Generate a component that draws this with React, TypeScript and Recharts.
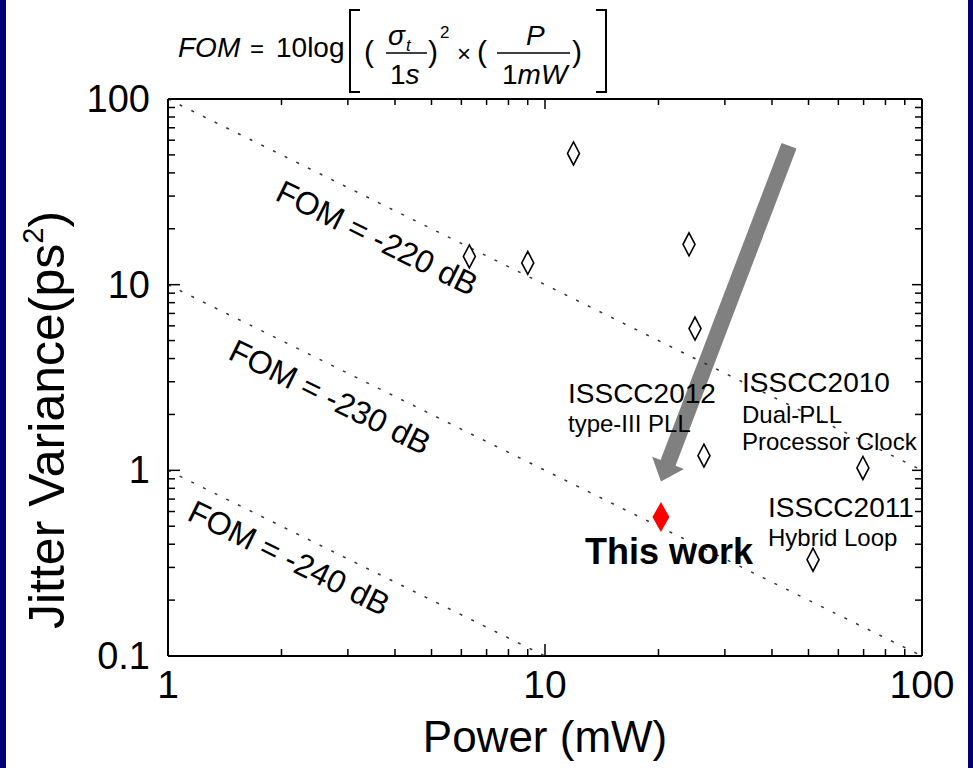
import React from "react";
import { ReferenceLine, Scatter, ScatterChart, XAxis, YAxis } from "recharts";

// power axis (mW), log ticks incl. minor
const powerTicks = [1, 2, 3, 4, 5, 6, 7, 8, 9, 10, 20, 30, 40, 50, 60, 70, 80, 90, 100];
// jitter variance axis (ps^2)
const jitterTicks = [
  0.1, 0.2, 0.3, 0.4, 0.5, 0.6, 0.7, 0.8, 0.9, 1, 2, 3, 4, 5, 6, 7, 8, 9, 10, 20, 30, 40, 50, 60, 70, 80, 90, 100,
];

// previously published PLLs
const priorPower = [6.3, 9.0, 11.9, 24.1, 25.0, 26.4, 51.4, 69.7];
const priorJitter = [14.2, 13.1, 50.9, 16.5, 5.8, 1.2, 0.33, 1.03];

// this work
const thisPower = [20.3];
const thisJitter = [0.56];

// FOM contour end points
const fom220Power = [1, 100];
const fom220Jitter = [100, 1];
const fom230Power = [1, 100];
const fom230Jitter = [10, 0.1];
const fom240Power = [1, 10];
const fom240Jitter = [1, 0.1];

// gray arrow (tail -> head)
const arrowPower = [44.4, 20.3];
const arrowJitter = [56, 0.87];

const zip = (p: number[], j: number[]) => p.map((v, i) => ({ p: v, j: j[i] }));

const FONT = "Arial, 'Liberation Sans', Helvetica, sans-serif";
const NAVY = "#000070";

const isDecade = (v: number) => Math.abs(Math.log10(v) - Math.round(Math.log10(v))) < 1e-6;
const fmt = (v: number) => (v < 1 ? v.toFixed(1) : String(v));

const BottomTick = (props: any) => {
  const { x, y, payload } = props;
  const major = isDecade(payload.value);
  return (
    <g>
      <line x1={x} x2={x} y1={y} y2={y - (major ? 12 : 7)} stroke="#000" strokeWidth={1.5} />
      {major && (
        <text x={x} y={y + 42} textAnchor="middle" fontSize={39} fontFamily={FONT} fill="#000">
          {fmt(payload.value)}
        </text>
      )}
    </g>
  );
};

const TopTick = (props: any) => {
  const { x, y, payload } = props;
  const major = isDecade(payload.value);
  return <line x1={x} x2={x} y1={y} y2={y + (major ? 10 : 6)} stroke="#000" strokeWidth={1.5} />;
};

const LeftTick = (props: any) => {
  const { x, y, payload } = props;
  const major = isDecade(payload.value);
  return (
    <g>
      <line x1={x} x2={x + (major ? 12 : 7)} y1={y} y2={y} stroke="#000" strokeWidth={1.5} />
      {major && (
        <text x={x - 18} y={y + 13} textAnchor="end" fontSize={38} fontFamily={FONT} fill="#000">
          {fmt(payload.value)}
        </text>
      )}
    </g>
  );
};

const RightTick = (props: any) => {
  const { x, y, payload } = props;
  const major = isDecade(payload.value);
  return <line x1={x} x2={x - (major ? 10 : 7)} y1={y} y2={y} stroke="#000" strokeWidth={1.5} />;
};

const HollowDiamond = (props: any) => {
  const { cx, cy } = props;
  return (
    <path
      d={`M${cx},${cy - 11.5} L${cx + 6},${cy} L${cx},${cy + 11.5} L${cx - 6},${cy} Z`}
      fill="none"
      stroke="#000"
      strokeWidth={1.6}
    />
  );
};

const RedDiamond = (props: any) => {
  const { cx, cy } = props;
  return <path d={`M${cx},${cy - 15} L${cx + 8.5},${cy} L${cx},${cy + 15} L${cx - 8.5},${cy} Z`} fill="#ff0000" />;
};

const NoDot = () => <g />;

const Arrow = (props: any) => {
  const { x1, y1, x2, y2 } = props;
  const dx = x2 - x1;
  const dy = y2 - y1;
  const len = Math.hypot(dx, dy);
  const ux = dx / len;
  const uy = dy / len;
  const nx = -uy;
  const ny = ux;
  const hw = 8;
  const headHalf = 17;
  const headLen = 20;
  const bx = x2 - ux * headLen;
  const by = y2 - uy * headLen;
  const pts = [
    [x1 + nx * hw, y1 + ny * hw],
    [bx + nx * hw, by + ny * hw],
    [bx + nx * headHalf, by + ny * headHalf],
    [x2, y2],
    [bx - nx * headHalf, by - ny * headHalf],
    [bx - nx * hw, by - ny * hw],
    [x1 - nx * hw, y1 - ny * hw],
  ];
  return <polygon points={pts.map((p) => p.join(",")).join(" ")} fill="#808080" />;
};

const dotted = { stroke: "#333", strokeWidth: 1.5, strokeDasharray: "3 10" };

function Formula() {
  return (
    <g fontFamily={FONT} fill="#000">
      <text x={178} y={57} fontSize={28} fontStyle="italic">FOM</text>
      <text x={250} y={57} fontSize={24}>=</text>
      <text x={276} y={57} fontSize={28}>10log</text>
      <path d="M360,10 L350,10 L350,92 L360,92" fill="none" stroke="#000" strokeWidth={2} />
      <text x={364} y={62} fontSize={30}>(</text>
      <text x={388} y={45} fontSize={28} fontStyle="italic">σ</text>
      <text x={406} y={51} fontSize={17} fontStyle="italic">t</text>
      <line x1={386} x2={427} y1={53} y2={53} stroke="#000" strokeWidth={1.5} />
      <text x={390} y={84} fontSize={28}>1<tspan fontStyle="italic">s</tspan></text>
      <text x={428} y={62} fontSize={30}>)</text>
      <text x={440} y={38} fontSize={17}>2</text>
      <text x={457} y={62} fontSize={24}>×</text>
      <text x={477} y={62} fontSize={30}>(</text>
      <text x={526} y={45} fontSize={28} fontStyle="italic">P</text>
      <line x1={497} x2={570} y1={53} y2={53} stroke="#000" strokeWidth={1.5} />
      <text x={502} y={84} fontSize={28}>1<tspan fontStyle="italic">mW</tspan></text>
      <text x={572} y={62} fontSize={30}>)</text>
      <path d="M596,10 L606,10 L606,92 L596,92" fill="none" stroke="#000" strokeWidth={2} />
    </g>
  );
}

function Annotations() {
  const angle = 26.3;
  const fomLabel = (cx: number, cy: number, s: string) => (
    <text
      x={cx}
      y={cy}
      textAnchor="middle"
      dominantBaseline="central"
      fontSize={32}
      fontFamily={FONT}
      fill="#000"
      transform={`rotate(${angle} ${cx} ${cy})`}
    >
      {s}
    </text>
  );
  return (
    <g fontFamily={FONT} fill="#000">
      {fomLabel(377, 238, "FOM = -220 dB")}
      {fomLabel(330, 397, "FOM = -230 dB")}
      {fomLabel(289, 558, "FOM = -240 dB")}
      <text x={568} y={403} fontSize={28}>ISSCC2012</text>
      <text x={568} y={432} fontSize={24}>type-III PLL</text>
      <text x={742} y={392} fontSize={28}>ISSCC2010</text>
      <text x={742} y={423} fontSize={24}>Dual-PLL</text>
      <text x={742} y={450} fontSize={24}>Processor Clock</text>
      <text x={768} y={517} fontSize={28}>ISSCC2011</text>
      <text x={768} y={546} fontSize={24}>Hybrid Loop</text>
      <text x={585} y={564} fontSize={36} fontWeight="bold">This work</text>
      <text x={545} y={752} textAnchor="middle" fontSize={44}>Power (mW)</text>
      <text
        x={64}
        y={420}
        textAnchor="middle"
        fontSize={50}
        transform="rotate(-90 64 420)"
      >
        Jitter Variance(ps<tspan fontSize={29} dy={-21}>2</tspan><tspan dy={21}>)</tspan>
      </text>
    </g>
  );
}

export default function App() {
  const W = 973;
  const H = 768;
  return (
    <div style={{ position: "relative", width: W, height: H, background: NAVY }}>
      <style>{"body{margin:0}"}</style>
      <div style={{ position: "absolute", left: 6, top: 0, width: 962, height: H, background: "#fff" }} />
      <div style={{ position: "absolute", left: 0, top: 0 }}>
        <ScatterChart width={W} height={H} margin={{ top: 89, right: 41, bottom: 62, left: 108 }}>
          <XAxis
            xAxisId="b"
            dataKey="p"
            type="number"
            scale="log"
            domain={[1, 100]}
            allowDataOverflow
            ticks={powerTicks}
            interval={0}
            height={50}
            tickSize={0}
            tickMargin={0}
            tickLine={false}
            axisLine={{ stroke: "#000", strokeWidth: 2 }}
            tick={<BottomTick />}
          />
          <XAxis
            xAxisId="t"
            orientation="top"
            dataKey="p"
            type="number"
            scale="log"
            domain={[1, 100]}
            allowDataOverflow
            ticks={powerTicks}
            interval={0}
            height={10}
            tickSize={0}
            tickMargin={0}
            tickLine={false}
            axisLine={{ stroke: "#000", strokeWidth: 2 }}
            tick={<TopTick />}
          />
          <YAxis
            yAxisId="l"
            dataKey="j"
            type="number"
            scale="log"
            domain={[0.1, 100]}
            allowDataOverflow
            ticks={jitterTicks}
            interval={0}
            width={60}
            tickSize={0}
            tickMargin={0}
            tickLine={false}
            axisLine={{ stroke: "#000", strokeWidth: 2 }}
            tick={<LeftTick />}
          />
          <YAxis
            yAxisId="r"
            orientation="right"
            dataKey="j"
            type="number"
            scale="log"
            domain={[0.1, 100]}
            allowDataOverflow
            ticks={jitterTicks}
            interval={0}
            width={10}
            tickSize={0}
            tickMargin={0}
            tickLine={false}
            axisLine={{ stroke: "#000", strokeWidth: 2 }}
            tick={<RightTick />}
          />
          <Scatter xAxisId="b" yAxisId="l" data={zip(fom220Power, fom220Jitter)} line={dotted} shape={NoDot} isAnimationActive={false} />
          <Scatter xAxisId="b" yAxisId="l" data={zip(fom230Power, fom230Jitter)} line={dotted} shape={NoDot} isAnimationActive={false} />
          <Scatter xAxisId="b" yAxisId="l" data={zip(fom240Power, fom240Jitter)} line={dotted} shape={NoDot} isAnimationActive={false} />
          <ReferenceLine
            xAxisId="b"
            yAxisId="l"
            segment={zip(arrowPower, arrowJitter).map((d) => ({ x: d.p, y: d.j }))}
            shape={Arrow}
            ifOverflow="visible"
          />
          <Scatter xAxisId="b" yAxisId="l" data={zip(priorPower, priorJitter)} shape={HollowDiamond} isAnimationActive={false} />
          <Scatter xAxisId="b" yAxisId="l" data={zip(thisPower, thisJitter)} shape={RedDiamond} isAnimationActive={false} />
        </ScatterChart>
      </div>
      <svg
        width={W}
        height={H}
        style={{ position: "absolute", left: 0, top: 0, pointerEvents: "none" }}
      >
        <Formula />
        <Annotations />
      </svg>
    </div>
  );
}
